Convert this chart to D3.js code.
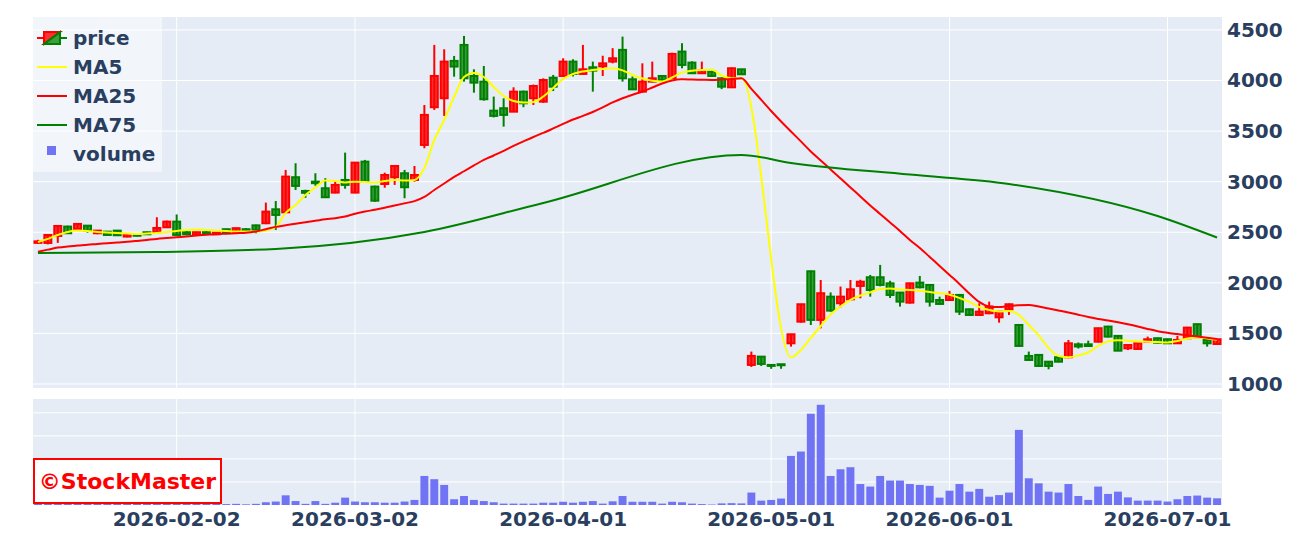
<!DOCTYPE html>
<html>
<head>
<meta charset="utf-8">
<script src="https://cdn.jsdelivr.net/npm/d3@7"></script>
<style>
  body { margin: 0; background: #fff; }
  #plot text { font-family: "DejaVu Sans", Verdana, sans-serif; font-weight: bold; }
</style>
</head>
<body>
<div id="plot"></div>
<script>
// trading days (TSE calendar, 2026)
const dates = [
  "2026-01-13", "2026-01-14", "2026-01-15", "2026-01-16", "2026-01-19", "2026-01-20", "2026-01-21", "2026-01-22", "2026-01-23", "2026-01-26", "2026-01-27", "2026-01-28", "2026-01-29", "2026-01-30",
  "2026-02-02", "2026-02-03", "2026-02-04", "2026-02-05", "2026-02-06", "2026-02-09", "2026-02-10", "2026-02-12", "2026-02-13", "2026-02-16", "2026-02-17", "2026-02-18", "2026-02-19", "2026-02-20", "2026-02-24", "2026-02-25", "2026-02-26", "2026-02-27",
  "2026-03-02", "2026-03-03", "2026-03-04", "2026-03-05", "2026-03-06", "2026-03-09", "2026-03-10", "2026-03-11", "2026-03-12", "2026-03-13", "2026-03-16", "2026-03-17", "2026-03-18", "2026-03-19", "2026-03-23", "2026-03-24", "2026-03-25", "2026-03-26", "2026-03-27", "2026-03-30", "2026-03-31",
  "2026-04-01", "2026-04-02", "2026-04-03", "2026-04-06", "2026-04-07", "2026-04-08", "2026-04-09", "2026-04-10", "2026-04-13", "2026-04-14", "2026-04-15", "2026-04-16", "2026-04-17", "2026-04-20", "2026-04-21", "2026-04-22", "2026-04-23", "2026-04-24", "2026-04-27", "2026-04-28", "2026-04-30",
  "2026-05-01", "2026-05-07", "2026-05-08", "2026-05-11", "2026-05-12", "2026-05-13", "2026-05-14", "2026-05-15", "2026-05-18", "2026-05-19", "2026-05-20", "2026-05-21", "2026-05-22", "2026-05-25", "2026-05-26", "2026-05-27", "2026-05-28", "2026-05-29",
  "2026-06-01", "2026-06-02", "2026-06-03", "2026-06-04", "2026-06-05", "2026-06-08", "2026-06-09", "2026-06-10", "2026-06-11", "2026-06-12", "2026-06-15", "2026-06-16", "2026-06-17", "2026-06-18", "2026-06-19", "2026-06-22", "2026-06-23", "2026-06-24", "2026-06-25", "2026-06-26", "2026-06-29", "2026-06-30",
  "2026-07-01", "2026-07-02", "2026-07-03", "2026-07-06", "2026-07-07", "2026-07-08"
];

const open = [
  2395, 2394, 2463, 2556, 2532, 2565, 2490, 2506, 2516, 2457, 2480, 2500, 2500, 2549,
  2605, 2500, 2475, 2500, 2480, 2530, 2505, 2530, 2568, 2589, 2727, 2697, 3044, 2908, 3000, 2935, 2892, 3017,
  2892, 3198, 2951, 2977, 3044, 3083, 3017, 3363, 3736, 3825, 4194, 4352, 4045, 3989, 3702, 3726, 3692, 3890, 3825, 3791, 4028,
  4045, 4187, 4065, 4131, 4140, 4187, 4303, 4012, 3890, 3989, 4045, 4022, 4286, 4177, 4072, 4088, 4022, 3933, 4111, 1188, 1270,
  1188, 1195, 1402, 1616, 2114, 1633, 1863, 1798, 1837, 1969, 2055, 2055, 1995, 1903, 1804, 2002, 1979, 1830,
  1830, 1880, 1738, 1682, 1699, 1659, 1738, 1583, 1277, 1287, 1220, 1264, 1264, 1392, 1392, 1418, 1567, 1475, 1352, 1346, 1418, 1452,
  1442, 1402, 1452, 1591, 1435, 1395
];
const high = [
  2425, 2480, 2570, 2565, 2585, 2570, 2520, 2510, 2520, 2490, 2485, 2505, 2648, 2615,
  2676, 2510, 2505, 2510, 2500, 2535, 2545, 2540, 2575, 2793, 2809, 3116, 3182, 2920, 3083, 3034, 3010, 3287,
  3195, 3215, 2960, 3089, 3160, 3116, 3155, 3758, 4352, 4309, 4243, 4441, 4111, 4144, 3841, 3824, 3933, 3900, 3960, 4022, 4055,
  4220, 4210, 4352, 4187, 4245, 4320, 4434, 4040, 4170, 4187, 4050, 4275, 4369, 4190, 4187, 4100, 4030, 4130, 4115, 1320, 1275,
  1190, 1198, 1495, 1792, 2120, 2028, 1905, 1963, 2028, 2030, 2078, 2177, 2020, 1910, 2000, 2068, 1985, 1863,
  1920, 1890, 1745, 1798, 1814, 1720, 1795, 1590, 1320, 1290, 1225, 1270, 1435, 1410, 1428, 1555, 1575, 1480, 1390, 1405, 1468, 1458,
  1448, 1475, 1565, 1598, 1440, 1448
];
const low = [
  2385, 2380, 2395, 2485, 2525, 2496, 2480, 2470, 2465, 2450, 2460, 2475, 2495, 2545,
  2465, 2470, 2470, 2485, 2475, 2495, 2500, 2500, 2490, 2580, 2523, 2690, 2918, 2840, 2960, 2840, 2885, 2930,
  2885, 2995, 2800, 2940, 2968, 2836, 3000, 3330, 3709, 3650, 4038, 3989, 3880, 3801, 3635, 3544, 3690, 3736, 3758, 3780, 3896,
  4040, 4040, 4060, 3890, 4045, 4170, 3989, 3905, 3880, 3980, 4000, 4015, 4121, 4065, 4065, 4040, 3915, 3925, 4055, 1168, 1178,
  1150, 1150, 1369, 1606, 1583, 1550, 1715, 1758, 1825, 1847, 1863, 1965, 1850, 1765, 1795, 1945, 1765, 1785,
  1820, 1682, 1672, 1675, 1690, 1606, 1682, 1370, 1230, 1168, 1145, 1215, 1255, 1350, 1370, 1410, 1460, 1325, 1335, 1340, 1410, 1402,
  1398, 1398, 1445, 1455, 1369, 1390
];
const close = [
  2410, 2473, 2562, 2490, 2582, 2516, 2516, 2473, 2470, 2483, 2465, 2480, 2542, 2605,
  2473, 2480, 2500, 2490, 2495, 2500, 2540, 2505, 2522, 2704, 2671, 3050, 2958, 2890, 2985, 2846, 2968, 2968,
  3188, 3000, 2812, 3066, 3155, 2945, 3066, 3660, 4045, 4187, 4138, 4022, 3979, 3815, 3650, 3660, 3890, 3775, 3946, 4005, 3939,
  4187, 4065, 4111, 4098, 4170, 4220, 4022, 3913, 3989, 4022, 4005, 4263, 4154, 4072, 4104, 4045, 3939, 4121, 4062, 1277, 1198,
  1180, 1185, 1491, 1788, 1633, 1897, 1725, 1863, 1936, 2011, 1929, 1979, 1880, 1814, 1995, 1956, 1814, 1791,
  1880, 1715, 1682, 1715, 1765, 1715, 1788, 1376, 1237, 1178, 1178, 1220, 1402, 1370, 1375, 1551, 1468, 1329, 1385, 1402, 1442, 1408,
  1402, 1435, 1557, 1462, 1402, 1442
];

// moving averages; MA5 has no value on four days, the line joins across them
const ma5 = [
  2404, 2434, 2473, 2503, 2516, 2513, 2503, 2498, 2493, 2488, 2483, 2488, 2493, 2503,
  2513, 2523, 2528, 2523, 2518, 2513, 2508, 2508, 2508, 2518, 2552, 2691, 2770, 2869, 2943, 3012, 3007, 2992,
  3000, 2997, 2992, 3007, 3017, 3012, 3017, 3136, 3412, 3610, 3838, 4035, 4075, 4035, 3936, 3847, 3798, 3783, 3788, 3842, 3927,
  4016, 4065, 4090, 4104, 4114, 4121, 4100, 4055, 4020, 3998, 3991, 4030, 4080, 4097, 4104, 4106, 4050, 4022, 4022, null, null,
  null, null, 1264, 1336, 1455, 1573, 1687, 1766, 1831, 1875, 1905, 1939, 1944, 1934, 1929, 1921, 1910, 1897,
  1882, 1850, 1811, 1761, 1732, 1717, 1722, 1682, 1583, 1480, 1356, 1277, 1264, 1282, 1311, 1376, 1420, 1433, 1428, 1420, 1418, 1415,
  1410, 1425, 1450, 1460, 1450, 1437
];
const ma25 = [
  2308, 2328, 2348, 2360, 2368, 2377, 2384, 2392, 2399, 2405, 2414, 2424, 2434, 2442,
  2450, 2458, 2467, 2475, 2481, 2486, 2491, 2495, 2508, 2530, 2553, 2569, 2584, 2599, 2613, 2628, 2639, 2656,
  2683, 2704, 2722, 2742, 2764, 2786, 2808, 2849, 2918, 2982, 3047, 3103, 3160, 3215, 3259, 3304, 3353, 3398, 3442, 3482, 3526,
  3571, 3615, 3650, 3689, 3734, 3783, 3825, 3859, 3892, 3931, 3971, 4001, 4012, 4010, 4008, 4006, 4010, 4015, 4022, 3917, 3808,
  3699, 3595, 3496, 3398, 3299, 3210, 3121, 3032, 2943, 2854, 2765, 2681, 2597, 2513, 2424, 2345, 2256, 2167,
  2078, 1989, 1895, 1811, 1766, 1761, 1771, 1779, 1781, 1766, 1746, 1727, 1707, 1684, 1662, 1643, 1628, 1610, 1590, 1568, 1544, 1522,
  1506, 1493, 1480, 1469, 1457, 1444
];
const ma75Dates = ["2026-01-13", "2026-01-29", "2026-02-17", "2026-03-11", "2026-03-30", "2026-04-27", "2026-05-08", "2026-05-26", "2026-06-09", "2026-06-30", "2026-07-08"];
const ma75 = [2295, 2305, 2335, 2503, 2790, 3264, 3185, 3070, 2978, 2661, 2448];

// volume, millions of shares
const volume = [
  0.15, 0.2, 0.25, 0.18, 0.12, 0.1, 0.08, 0.1, 0.07, 0.06, 0.05, 0.06, 0.2, 0.15,
  0.25, 0.1, 0.08, 0.06, 0.05, 0.04, 0.05, 0.03, 0.05, 0.12, 0.15, 0.42, 0.17, 0.05, 0.17, 0.05, 0.1, 0.32,
  0.15, 0.12, 0.12, 0.1, 0.1, 0.15, 0.22, 1.26, 1.12, 0.87, 0.25, 0.39, 0.22, 0.17, 0.12, 0.06, 0.06, 0.06, 0.06, 0.1, 0.1,
  0.14, 0.1, 0.14, 0.17, 0.06, 0.16, 0.39, 0.14, 0.14, 0.14, 0.06, 0.14, 0.12, 0.06, 0.04, 0.02, 0.07, 0.08, 0.07, 0.54, 0.19,
  0.22, 0.28, 2.13, 2.32, 3.96, 4.35, 1.26, 1.55, 1.64, 0.91, 0.8, 1.26, 1.06, 1.06, 0.91, 0.87, 0.83, 0.32,
  0.62, 0.91, 0.58, 0.7, 0.36, 0.43, 0.54, 3.26, 1.16, 0.94, 0.58, 0.54, 0.91, 0.39, 0.22, 0.8, 0.48, 0.58, 0.33, 0.19, 0.19, 0.19,
  0.15, 0.25, 0.39, 0.41, 0.32, 0.29
];

const priceTicks = [1000, 1500, 2000, 2500, 3000, 3500, 4000, 4500];
const volumeTicks = [1, 2, 3, 4];
const dateTicks = ["2026-02-02", "2026-03-02", "2026-04-01", "2026-05-01", "2026-06-01", "2026-07-01"];

const w = 1291;
const h = 543;
const left = 33;
const right = 1222;
const priceTop = 17;
const priceBottom = 388;
const volTop = 399;
const volBottom = 505;
const textColor = "#2a3f5f";
const upColor = "#ff0000";
const downColor = "#008000";
const upFill = "rgba(255,0,0,0.8)";
const downFill = "rgba(0,128,0,0.75)";

const svg = d3.select("#plot").
append("svg").
attr("width", w).
attr("height", h);

const xScale = d3.scaleBand().
domain(dates).
range([left, right]);

const xMid = d => xScale(d) + xScale.bandwidth() / 2;

const yScale = d3.scaleLinear().
domain([960, 4628]).
range([priceBottom, priceTop]);

const volScale = d3.scaleLinear().
domain([0, 4.6]).
range([volBottom, volTop]);

// panel backgrounds
[[priceTop, priceBottom], [volTop, volBottom]].forEach(p => {
  svg.append("rect").
  attr("x", left).
  attr("y", p[0]).
  attr("width", right - left).
  attr("height", p[1] - p[0]).
  attr("fill", "#E5ECF6");
});

// grid
const grid = svg.append("g").attr("stroke", "#fff").attr("stroke-width", 1);

grid.selectAll(".py").
data(priceTicks).
enter().
append("line").
attr("x1", left).
attr("x2", right).
attr("y1", d => yScale(d)).
attr("y2", d => yScale(d));

grid.selectAll(".vy").
data(volumeTicks).
enter().
append("line").
attr("x1", left).
attr("x2", right).
attr("y1", d => volScale(d)).
attr("y2", d => volScale(d));

[[priceTop, priceBottom], [volTop, volBottom]].forEach(p => {
  grid.append("g").
  selectAll("line").
  data(dateTicks).
  enter().
  append("line").
  attr("x1", d => xMid(d)).
  attr("x2", d => xMid(d)).
  attr("y1", p[0]).
  attr("y2", p[1]);
});

// axes
const yAxis = d3.axisRight(yScale).tickValues(priceTicks).tickFormat(d3.format("d")).tickSize(0).tickPadding(5);
const xAxis = d3.axisBottom(xScale).tickValues(dateTicks).tickSize(0).tickPadding(7);

svg.append("g").
attr("transform", "translate(" + right + ",0)").
call(yAxis).
call(g => g.select(".domain").remove());

svg.append("g").
attr("transform", "translate(0," + volBottom + ")").
call(xAxis).
call(g => g.select(".domain").remove());

svg.selectAll(".tick text").
attr("font-size", 20).
attr("font-family", "DejaVu Sans").
attr("font-weight", "bold").
attr("fill", textColor);

// candles
const candles = svg.append("g").
selectAll("g").
data(dates.map((d, i) => i)).
enter().
append("g").
attr("stroke", i => close[i] >= open[i] ? upColor : downColor).
attr("stroke-width", 2);

candles.append("line").
attr("x1", i => xMid(dates[i])).
attr("x2", i => xMid(dates[i])).
attr("y1", i => yScale(high[i])).
attr("y2", i => yScale(low[i]));

candles.append("rect").
attr("x", i => xMid(dates[i]) - 3.5).
attr("width", 7).
attr("y", i => yScale(Math.max(open[i], close[i]))).
attr("height", i => Math.max(1, yScale(Math.min(open[i], close[i])) - yScale(Math.max(open[i], close[i])))).
attr("fill", i => close[i] >= open[i] ? upFill : downFill);

// moving averages
const maLine = d3.line().
x(d => xMid(d[0])).
y(d => yScale(d[1])).
curve(d3.curveMonotoneX);

const lines = [
  [dates.map((d, i) => [d, ma5[i]]).filter(d => d[1] != null), "#ffff00"],
  [dates.map((d, i) => [d, ma25[i]]), upColor],
  [ma75Dates.map((d, i) => [d, ma75[i]]), downColor]
];

lines.forEach(l => {
  svg.append("path").
  datum(l[0]).
  attr("d", maLine).
  attr("fill", "none").
  attr("stroke", l[1]).
  attr("stroke-width", 2);
});

// volume
svg.append("g").
selectAll("rect").
data(dates.map((d, i) => i)).
enter().
append("rect").
attr("x", i => xMid(dates[i]) - xScale.bandwidth() * 0.4).
attr("width", xScale.bandwidth() * 0.8).
attr("y", i => volScale(volume[i])).
attr("height", i => volBottom - volScale(volume[i])).
attr("fill", "#7074f4");

// legend
const legend = svg.append("g").attr("id", "legend");

legend.append("rect").
attr("x", left).
attr("y", priceTop).
attr("width", 129).
attr("height", 155).
attr("fill", "rgba(255,255,255,0.5)");

const legendKeys = ["price", "MA5", "MA25", "MA75", "volume"];
const legendY = (d, i) => 38 + i * 29;

legend.selectAll("text").
data(legendKeys).
enter().
append("text").
attr("x", 73).
attr("y", legendY).
attr("dy", "0.35em").
attr("font-size", 20).
attr("fill", textColor).
text(d => d);

legend.append("path").
attr("d", "M37,38H44M44,44V32H60Z").
attr("fill", upFill).
attr("stroke", upColor).
attr("stroke-width", 2);

legend.append("path").
attr("d", "M67,38H60M60,32V44H44Z").
attr("fill", downFill).
attr("stroke", downColor).
attr("stroke-width", 2);

legend.selectAll(".ma").
data(["#ffff00", upColor, downColor]).
enter().
append("line").
attr("x1", 37).
attr("x2", 67).
attr("y1", (d, i) => legendY(d, i + 1)).
attr("y2", (d, i) => legendY(d, i + 1)).
attr("stroke", d => d).
attr("stroke-width", 2);

legend.append("rect").
attr("x", 47).
attr("y", 146).
attr("width", 9).
attr("height", 9).
attr("fill", "#7074f4");

// watermark
svg.append("rect").
attr("x", 34).
attr("y", 459).
attr("width", 187).
attr("height", 44).
attr("fill", "#fff").
attr("stroke", "#ff0000").
attr("stroke-width", 2);

svg.append("text").
attr("x", 127.5).
attr("y", 481).
attr("dy", "0.35em").
attr("text-anchor", "middle").
attr("font-size", 22).
attr("fill", "#ff0000").
text("©StockMaster");
</script>
</body>
</html>
